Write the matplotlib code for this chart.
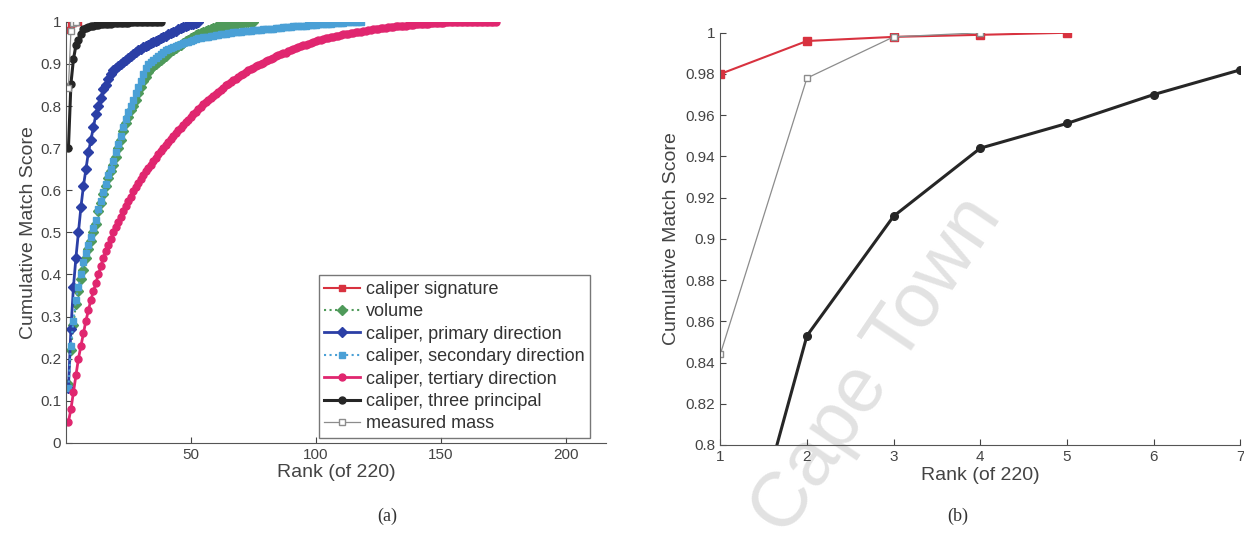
import matplotlib.pyplot as plt

plt.rcParams['font.family'] = ['Liberation Sans', 'DejaVu Sans']

# cumulative match score per rank (rank 1, 2, 3, ...)
sig = [0.98, 0.996, 0.998, 0.999, 1.0]
volume = [0.14, 0.22, 0.28, 0.33, 0.36, 0.39, 0.41, 0.44, 0.46, 0.48,
          0.50, 0.52, 0.55, 0.57, 0.59, 0.61, 0.63, 0.645, 0.66, 0.68,
          0.70, 0.72, 0.74, 0.76, 0.775, 0.79, 0.80, 0.815, 0.83, 0.845,
          0.86, 0.87, 0.88, 0.89, 0.895, 0.90, 0.905, 0.91, 0.915, 0.92,
          0.925, 0.93, 0.934, 0.938, 0.942, 0.946, 0.95, 0.954, 0.958, 0.962,
          0.965, 0.968, 0.971, 0.974, 0.977, 0.979, 0.981, 0.983, 0.985, 0.987,
          0.989, 0.99, 0.991, 0.992, 0.993, 0.994, 0.995, 0.996, 0.997, 0.998,
          0.998, 0.999, 0.999, 1.0, 1.0]
primary = [0.13, 0.27, 0.37, 0.44, 0.50, 0.56, 0.61, 0.65, 0.69, 0.72,
           0.75, 0.78, 0.80, 0.82, 0.84, 0.85, 0.865, 0.875, 0.885, 0.89,
           0.895, 0.90, 0.905, 0.91, 0.915, 0.92, 0.924, 0.928, 0.932, 0.936,
           0.94, 0.943, 0.946, 0.949, 0.952, 0.955, 0.958, 0.961, 0.964, 0.967,
           0.97, 0.973, 0.976, 0.979, 0.982, 0.985, 0.988, 0.99, 0.992, 0.994,
           0.996, 0.998, 1.0]
secondary = [0.13, 0.23, 0.29, 0.34, 0.37, 0.40, 0.43, 0.45, 0.47, 0.49,
             0.51, 0.53, 0.555, 0.575, 0.595, 0.615, 0.635, 0.65, 0.67, 0.69,
             0.71, 0.73, 0.75, 0.77, 0.785, 0.80, 0.815, 0.83, 0.845, 0.86,
             0.875, 0.89, 0.90, 0.905, 0.91, 0.915, 0.92, 0.924, 0.928, 0.932,
             0.935, 0.938, 0.941, 0.943, 0.945, 0.947, 0.949, 0.951, 0.953, 0.955,
             0.957, 0.959, 0.961, 0.962, 0.963, 0.964, 0.965, 0.966, 0.967, 0.968,
             0.969, 0.970, 0.971, 0.972, 0.973, 0.974, 0.975, 0.976, 0.977, 0.977,
             0.978, 0.978, 0.979, 0.979, 0.980, 0.980, 0.981, 0.981, 0.982, 0.982,
             0.983, 0.983, 0.984, 0.985, 0.985, 0.986, 0.987, 0.987, 0.988, 0.988,
             0.989, 0.989, 0.990, 0.990, 0.991, 0.991, 0.992, 0.992, 0.993, 0.993,
             0.994, 0.994, 0.995, 0.995, 0.996, 0.996, 0.997, 0.997, 0.998, 0.998,
             0.998, 0.999, 0.999, 0.999, 1.0, 1.0, 1.0, 1.0]
tertiary = [0.05, 0.08, 0.12, 0.16, 0.20, 0.23, 0.26, 0.29, 0.315, 0.34,
            0.36, 0.38, 0.40, 0.42, 0.44, 0.455, 0.47, 0.485, 0.50, 0.513,
            0.525, 0.537, 0.55, 0.562, 0.574, 0.585, 0.597, 0.607, 0.617, 0.627,
            0.636, 0.645, 0.653, 0.661, 0.669, 0.677, 0.685, 0.693, 0.70, 0.707,
            0.714, 0.721, 0.728, 0.735, 0.742, 0.749, 0.756, 0.762, 0.768, 0.774,
            0.78, 0.786, 0.792, 0.798, 0.804, 0.809, 0.814, 0.819, 0.824, 0.829,
            0.834, 0.839, 0.844, 0.849, 0.853, 0.857, 0.861, 0.865, 0.869, 0.873,
            0.877, 0.881, 0.885, 0.888, 0.891, 0.894, 0.897, 0.900, 0.903, 0.906,
            0.909, 0.912, 0.915, 0.918, 0.921, 0.923, 0.925, 0.927, 0.93, 0.933,
            0.936, 0.938, 0.94, 0.942, 0.944, 0.946, 0.948, 0.95, 0.952, 0.955,
            0.957, 0.958, 0.959, 0.961, 0.962, 0.964, 0.965, 0.966, 0.967, 0.968,
            0.97, 0.971, 0.972, 0.973, 0.974, 0.975, 0.976, 0.977, 0.978, 0.979,
            0.98, 0.981, 0.982, 0.983, 0.984, 0.985, 0.985, 0.986, 0.987, 0.988,
            0.988, 0.989, 0.99, 0.99, 0.991, 0.991, 0.992, 0.993, 0.993, 0.994,
            0.994, 0.995, 0.995, 0.996, 0.996, 0.997, 0.997, 0.997, 0.998, 0.998,
            0.998, 0.999, 0.999, 0.999, 0.999, 1.0, 1.0, 1.0, 1.0, 1.0,
            1.0, 1.0, 1.0, 1.0, 1.0, 1.0, 1.0, 1.0, 1.0, 1.0, 1.0, 1.0]
three = [0.70, 0.853, 0.911, 0.944, 0.956, 0.970, 0.982, 0.985, 0.988, 0.99,
         0.991, 0.992, 0.993, 0.994, 0.995, 0.995, 0.996, 0.996, 0.997, 0.997,
         0.997, 0.998, 0.998, 0.998, 0.998, 0.999, 0.999, 0.999, 0.999, 0.999,
         1.0, 1.0, 1.0, 1.0, 1.0, 1.0, 1.0, 1.0]
mass = [0.844, 0.978, 0.998, 1.0]

labels = ["caliper signature", "volume", "caliper, primary direction",
          "caliper, secondary direction", "caliper, tertiary direction",
          "caliper, three principal", "measured mass"]
series = [sig, volume, primary, secondary, tertiary, three, mass]
colors = ["#d8323f", "#4f9a5a", "#2b3fa6", "#4aa0d6", "#e0266f", "#262626", "#8c8c8c"]
markers = ["s", "D", "D", "s", "o", "o", "s"]
lstyles = ["-", ":", "-", ":", "-", "-", "-"]
lwidths = [1.5, 1.5, 2.0, 1.5, 2.0, 2.2, 0.9]

fig = plt.figure(figsize=(12.44, 5.46), dpi=100)
ax1 = fig.add_axes([0.053, 0.189, 0.434, 0.771])
ax2 = fig.add_axes([0.579, 0.185, 0.418, 0.755])

# watermark behind the plots
fig.text(0.705, 0.33, "Cape Town", fontsize=56, color="#e2e2e2", rotation=56,
         ha="center", va="center", zorder=-1)

for ax, ms in [(ax1, 5), (ax2, 5.5)]:
    ax.patch.set_alpha(0)
    for vals, lab, c, m, ls, lw in zip(series, labels, colors, markers, lstyles, lwidths):
        ranks = list(range(1, len(vals) + 1))
        face = "white" if lab == "measured mass" else c
        ax.plot(ranks, vals, color=c, marker=m, markersize=ms if lab != "measured mass" else 4,
                linestyle=ls, linewidth=lw, markerfacecolor=face, markeredgecolor=c, label=lab)
    for side in ["top", "right"]:
        ax.spines[side].set_visible(False)
    for side in ["left", "bottom"]:
        ax.spines[side].set_color("#555555")
    ax.tick_params(direction="in", colors="#444444", labelsize=11, length=4)
    ax.set_ylabel("Cumulative Match Score", fontsize=14, color="#444444")
    ax.set_xlabel("Rank (of 220)", fontsize=14, color="#444444", labelpad=2)

ax1.set_xlim(0, 216)
ax1.set_ylim(0, 1)
ax1.set_xticks([50, 100, 150, 200])
ax1.set_yticks([0, 0.1, 0.2, 0.3, 0.4, 0.5, 0.6, 0.7, 0.8, 0.9, 1])
ax1.set_yticklabels(["0", "0.1", "0.2", "0.3", "0.4", "0.5", "0.6", "0.7", "0.8", "0.9", "1"])
ax1.yaxis.labelpad = 2
leg = ax1.legend(loc="lower right", bbox_to_anchor=(0.97, 0.012), fontsize=13,
                 frameon=True, fancybox=False, edgecolor="#555555", handlelength=2.0,
                 labelspacing=0.3, borderpad=0.3, handletextpad=0.3, borderaxespad=0)
for t in leg.get_texts():
    t.set_color("#333333")

ax2.set_xlim(1, 7)
ax2.set_ylim(0.8, 1.0)
ax2.set_xticks([1, 2, 3, 4, 5, 6, 7])
ax2.set_yticks([0.8, 0.82, 0.84, 0.86, 0.88, 0.9, 0.92, 0.94, 0.96, 0.98, 1.0])
ax2.set_yticklabels(["0.8", "0.82", "0.84", "0.86", "0.88", "0.9", "0.92", "0.94", "0.96", "0.98", "1"])

fig.text(0.311, 0.045, "(a)", fontsize=13, family="Liberation Serif", ha="center", color="#333333")
fig.text(0.770, 0.045, "(b)", fontsize=13, family="Liberation Serif", ha="center", color="#333333")

plt.savefig("out.png", dpi=100)
